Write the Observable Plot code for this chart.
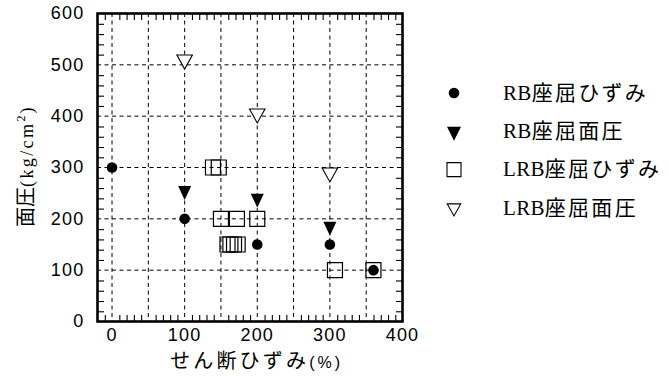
<!DOCTYPE html>
<html><head><meta charset="utf-8">
<script src="https://cdn.jsdelivr.net/npm/d3@7"></script>
<script src="https://cdn.jsdelivr.net/npm/@observablehq/plot@0.6"></script>
<style>
body{margin:0;background:#fff;}
#wrap{width:669px;height:376px;}
</style></head><body><div id="wrap"></div>
<script>
// ---- data ----
const rbStrainX = [0, 100, 200, 300, 360];
const rbStrainY = [300, 200, 150, 150, 100];
const rbPressX = [100, 200, 300];
const rbPressY = [255, 240, 185];
const lrbStrainX = [139, 147, 150, 172, 200, 159, 163, 168, 173, 307, 360];
const lrbStrainY = [300, 300, 200, 200, 200, 150, 150, 150, 150, 100, 100];
const lrbPressX = [100, 200, 300];
const lrbPressY = [510, 405, 290];
const seriesNames = ["RB座屈ひずみ", "RB座屈面圧", "LRB座屈ひずみ", "LRB座屈面圧"];
const xTickLabels = [0, 100, 200, 300, 400];
const yTickLabels = [0, 100, 200, 300, 400, 500, 600];
const xGridVals = [0, 50, 100, 150, 200, 250, 300, 350];
const yGridVals = [100, 200, 300, 400, 500];
const xMinorVals = [-10, 10, 20, 30, 40, 60, 70, 80, 90, 110, 120, 130, 140, 160, 170, 180, 190, 210, 220, 230, 240, 260, 270, 280, 290, 310, 320, 330, 340, 360, 370, 380, 390];
const yMinorVals = [20, 40, 60, 80, 120, 140, 160, 180, 220, 240, 260, 280, 320, 340, 360, 380, 420, 440, 460, 480, 520, 540, 560, 580];
const xDomain = [-20, 400];
const yDomain = [0, 600];

const toRows = (xs, ys) => xs.map((x, i) => ({x, y: ys[i]}));

function triDown(w, h) {
  return {draw(ctx) {
    ctx.moveTo(-w / 2, -h / 3); ctx.lineTo(w / 2, -h / 3); ctx.lineTo(0, 2 * h / 3); ctx.closePath();
  }};
}
function squareSym(s) {
  return {draw(ctx) { ctx.rect(-s / 2, -s / 2, s, s); }};
}
// inward tick marks, drawn as thin filled bars
function tickSym(w, h) {
  return {draw(ctx) { ctx.rect(Math.min(0, w), Math.min(0, h), Math.abs(w), Math.abs(h)); }};
}
const symFilledTri = triDown(13, 14);
const symOpenTri = triDown(15.5, 14);
const symSquare = squareSym(15);
const tl = 6.5;

const tickStyle = {r: 3, fill: "black", stroke: "none"};

const chart = Plot.plot({
  width: 669, height: 376,
  marginLeft: 97, marginRight: 267, marginTop: 13, marginBottom: 55,
  x: {domain: xDomain},
  y: {domain: yDomain},
  style: {fontFamily: "'Liberation Sans', Arial, sans-serif", fontSize: "18px", color: "black", background: "white", letterSpacing: "1.2px"},
  marks: [
    Plot.gridX(xGridVals, {stroke: "black", strokeOpacity: 1, strokeWidth: 1, strokeDasharray: "4,3.5"}),
    Plot.gridY(yGridVals, {stroke: "black", strokeOpacity: 1, strokeWidth: 1, strokeDasharray: "4,3.5"}),
    Plot.axisX(xTickLabels, {anchor: "bottom", tickSize: 0, tickPadding: 7, label: null}),
    Plot.axisY(yTickLabels, {anchor: "left", tickSize: 0, tickPadding: 13, label: null}),
    Plot.frame({stroke: "black", strokeWidth: 2.6}),
    Plot.dot(xMinorVals, {x: d => d, y: () => yDomain[0], symbol: tickSym(1.1, -tl), ...tickStyle}),
    Plot.dot(xMinorVals, {x: d => d, y: () => yDomain[1], symbol: tickSym(1.1, tl), ...tickStyle}),
    Plot.dot(yMinorVals, {y: d => d, x: () => xDomain[0], symbol: tickSym(tl, 1.1), ...tickStyle}),
    Plot.dot(yMinorVals, {y: d => d, x: () => xDomain[1], symbol: tickSym(-tl, 1.1), ...tickStyle}),
    Plot.dot(toRows(lrbStrainX, lrbStrainY), {x: "x", y: "y", symbol: symSquare, r: 8, stroke: "black", strokeWidth: 1.2, fill: "none"}),
    Plot.dot(toRows(lrbPressX, lrbPressY), {x: "x", y: "y", symbol: symOpenTri, r: 8, stroke: "black", strokeWidth: 1.1, fill: "white"}),
    Plot.dot(toRows(rbStrainX, rbStrainY), {x: "x", y: "y", symbol: "circle", r: 5.3, fill: "black", stroke: "none"}),
    Plot.dot(toRows(rbPressX, rbPressY), {x: "x", y: "y", symbol: symFilledTri, r: 8, fill: "black", stroke: "none"})
  ]
});
document.getElementById("wrap").appendChild(chart);

const svg = d3.select(chart);

const xl = svg.append("text").attr("x", 170).attr("y", 368).attr("fill", "black")
  .attr("text-anchor", "start").style("letter-spacing", "0px");
xl.append("tspan").text("せん断ひずみ").attr("font-family", "'Noto Sans CJK JP'").attr("font-size", 20).style("letter-spacing", "3.2px");
xl.append("tspan").text("(%)").attr("font-family", "'Liberation Sans', Arial").attr("font-size", 16).style("letter-spacing", "3px");

const yl = svg.append("text").attr("transform", "translate(33,227) rotate(-90)").attr("fill", "black")
  .attr("text-anchor", "start").style("letter-spacing", "0px");
yl.append("tspan").text("面圧").attr("font-family", "'Noto Sans CJK JP'").attr("font-size", 20);
yl.append("tspan").text("(kg/cm").attr("font-family", "'Liberation Serif', serif").attr("font-size", 18).style("letter-spacing", "2.4px");
yl.append("tspan").text("2").attr("font-family", "'Liberation Serif', serif").attr("font-size", 12).attr("dy", -8).style("letter-spacing", "2px");
yl.append("tspan").text(")").attr("font-family", "'Liberation Serif', serif").attr("font-size", 18).attr("dy", 8);

const legSyms = [
  {type: d3.symbolCircle, size: Math.PI * 5.3 * 5.3, fill: "black", stroke: "none"},
  {type: triDown(14, 14), size: 1, fill: "black", stroke: "none"},
  {type: squareSym(14), size: 1, fill: "none", stroke: "black"},
  {type: triDown(13.5, 12), size: 1, fill: "none", stroke: "black"}
];
const leg = svg.append("g").attr("text-anchor", "start");
seriesNames.forEach((name, i) => {
  const cy = 93 + i * 38.3;
  const s = legSyms[i];
  leg.append("path").attr("d", d3.symbol(s.type, s.size)()).attr("transform", `translate(454,${cy})`)
    .attr("fill", s.fill).attr("stroke", s.stroke).attr("stroke-width", 1.1);
  const m = name.match(/^([A-Z]+)(.*)$/);
  const t = leg.append("text").attr("x", 503).attr("y", cy).attr("dy", "0.38em").attr("fill", "black")
    .attr("text-anchor", "start").style("letter-spacing", "0px");
  t.append("tspan").text(m[1]).attr("font-family", "'Liberation Serif', serif").attr("font-size", 21).style("letter-spacing", "0.3px");
  t.append("tspan").text(m[2]).attr("font-family", "'Noto Sans CJK JP'").attr("font-size", 21).style("letter-spacing", "2.3px");
});
</script>
</body></html>
